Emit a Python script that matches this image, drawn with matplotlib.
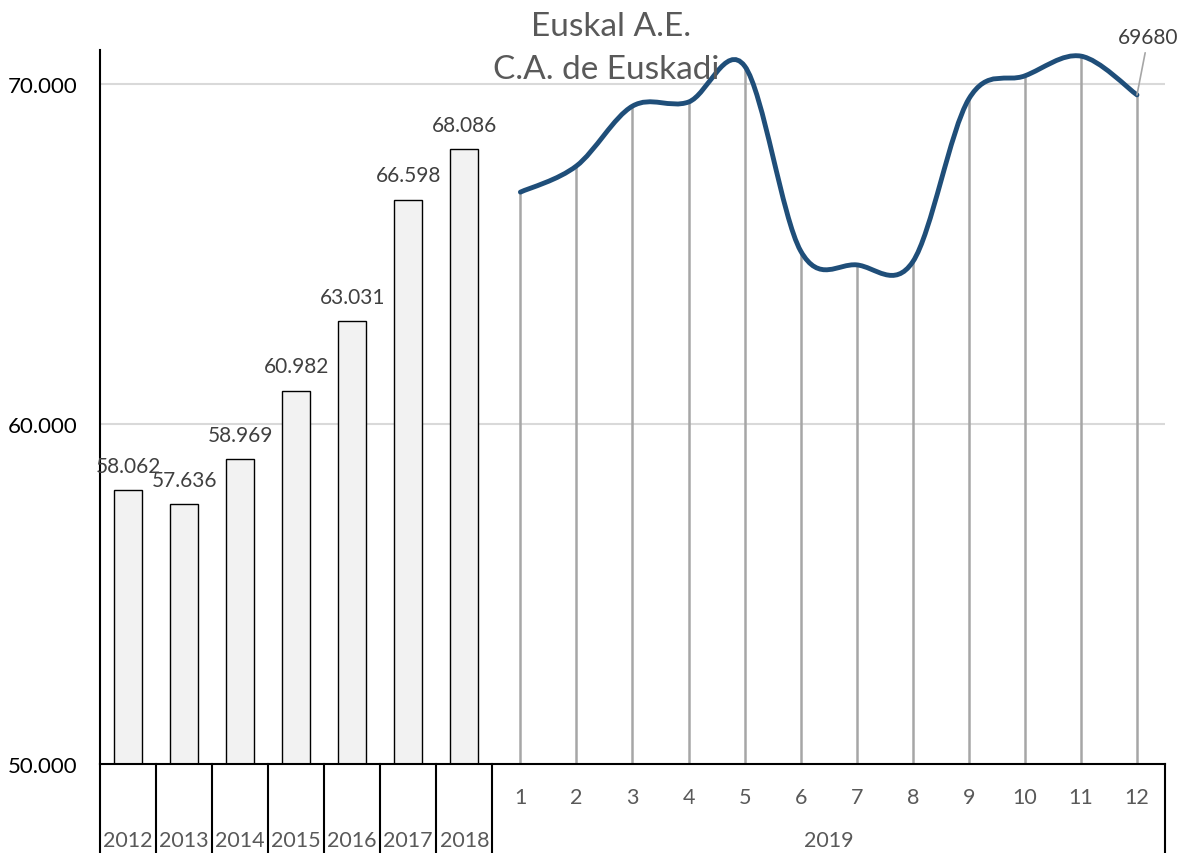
import numpy as np
import matplotlib.pyplot as plt
from matplotlib.path import Path
from matplotlib.patches import PathPatch

plt.rcParams['font.family'] = ['Lato', 'DejaVu Sans']

# data
years = ['2012', '2013', '2014', '2015', '2016', '2017', '2018']
year_values = [58062, 57636, 58969, 60982, 63031, 66598, 68086]
month_labels = ['1', '2', '3', '4', '5', '6', '7', '8', '9', '10', '11', '12']
month_values = [66820, 67590, 69350, 69470, 70530, 65090, 64680, 64770, 69560, 70240, 70820, 69680]
group_label = '2019'
title_lines = ['Euskal A.E.', 'C.A. de Euskadi']


def fmt_es(v):
    return '{:,}'.format(int(v)).replace(',', '.')


def smooth_path(xs, ys):
    # Excel style smoothed line: cubic bezier through every point
    pts = np.column_stack([xs, ys]).astype(float)
    n = len(pts)
    verts = [pts[0]]
    codes = [Path.MOVETO]
    for i in range(n - 1):
        p0 = pts[i - 1] if i > 0 else pts[i]
        p1 = pts[i]
        p2 = pts[i + 1]
        p3 = pts[i + 2] if i + 2 < n else pts[i + 1]
        c1 = p1 + (p2 - p0) / 6.0
        c2 = p2 - (p3 - p1) / 6.0
        verts += [c1, c2, p2]
        codes += [Path.CURVE4] * 3
    return Path(verts, codes)


fig = plt.figure(figsize=(11.82, 8.54), dpi=100)
ax = fig.add_axes([100 / 1182, 1 - 765 / 854, 1065 / 1182, 714 / 854])

x_years = np.arange(len(years))
x_months = np.arange(len(years), len(years) + len(month_labels))

ax.set_xlim(-0.5, len(years) + len(month_labels) - 0.5)
ax.set_ylim(50000, 71000)

# grid
for g in [60000, 70000]:
    ax.axhline(g, color='#d9d9d9', lw=1.5, zorder=0)

# bars
ax.bar(x_years, year_values, width=0.5, bottom=0, color='#f2f2f2',
       edgecolor='black', linewidth=1.0, zorder=2)
for x, v in zip(x_years, year_values):
    ax.text(x, v + 420, fmt_es(v), ha='center', va='bottom',
            fontsize=15, color='#404040')

# drop lines and smooth line
ax.vlines(x_months, 50000, month_values, color='#a6a6a6', lw=1.8, zorder=2)
line_path = smooth_path(x_months, month_values)
ax.add_patch(PathPatch(line_path, facecolor='none', edgecolor='#1f4e79',
                       lw=3.5, capstyle='round', zorder=3))

# label on last point with leader line
ax.annotate(str(month_values[-1]), xy=(x_months[-1], month_values[-1]),
            xytext=(x_months[-1] + 0.2, month_values[-1] + 1400),
            ha='center', va='bottom', fontsize=15, color='#404040',
            arrowprops=dict(arrowstyle='-', color='#a6a6a6', lw=1.2,
                            shrinkA=2, shrinkB=0), annotation_clip=False)

# axes styling
for s in ['top', 'right']:
    ax.spines[s].set_visible(False)
ax.spines['left'].set_color('black')
ax.spines['left'].set_linewidth(1.5)
ax.spines['bottom'].set_color('black')
ax.spines['bottom'].set_linewidth(1.5)
ax.set_yticks([50000, 60000, 70000])
ax.set_yticklabels([fmt_es(v) for v in [50000, 60000, 70000]], fontsize=16, color='black')
ax.tick_params(axis='y', length=0, pad=16)
ax.set_xticks([])

# multi-level category axis
tr = ax.get_xaxis_transform()
bottom = -0.14
for b in list(np.arange(len(years) + 1) - 0.5) + [len(years) + len(month_labels) - 0.5]:
    ax.plot([b, b], [0, bottom], transform=tr, color='black', lw=1.5, clip_on=False)
for x, lab in zip(x_years, years):
    ax.text(x, -0.106, lab, transform=tr, ha='center', va='center',
            fontsize=15.5, color='#595959')
for x, lab in zip(x_months, month_labels):
    ax.text(x, -0.046, lab, transform=tr, ha='center', va='center',
            fontsize=15.5, color='#595959')
ax.text((x_months[0] + x_months[-1]) / 2, -0.106, group_label, transform=tr,
        ha='center', va='center', fontsize=15.5, color='#595959')

# title
fig.text(611 / 1182, 1 - 27 / 854, title_lines[0], ha='center', va='center',
         fontsize=24, color='#595959')
fig.text(606 / 1182, 1 - 70 / 854, title_lines[1], ha='center', va='center',
         fontsize=24, color='#595959')

fig.savefig('out.png', dpi=100)
